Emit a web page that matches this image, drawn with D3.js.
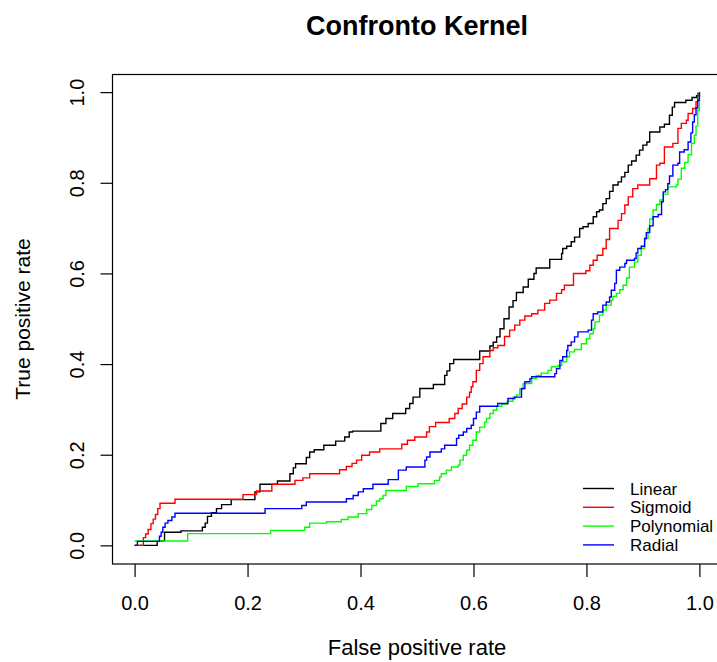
<!DOCTYPE html>
<html>
<head>
<meta charset="utf-8">
<script src="https://cdn.jsdelivr.net/npm/d3@7"></script>
<style>
  body { margin: 0; background: #fff; }
  svg { display: block; font-family: "Liberation Sans", Arial, sans-serif; }
</style>
</head>
<body>
<div id="chart"></div>
<script>
// ROC curves, [fpr, tpr] at each step (tpr after the rise)
var linear = [
    [0, 0], [0.040, 0.0095], [0.053, 0.029], [0.082, 0.032], [0.120, 0.040], [0.125, 0.049],
    [0.129, 0.064], [0.136, 0.072], [0.145, 0.081], [0.154, 0.090], [0.171, 0.101], [0.213, 0.118],
    [0.222, 0.135], [0.253, 0.142], [0.275, 0.158], [0.281, 0.171], [0.285, 0.180], [0.304, 0.194],
    [0.310, 0.206], [0.318, 0.211], [0.335, 0.221], [0.356, 0.230], [0.372, 0.239], [0.380, 0.250],
    [0.386, 0.252], [0.436, 0.269], [0.445, 0.280], [0.457, 0.291], [0.480, 0.302], [0.487, 0.313],
    [0.493, 0.327], [0.505, 0.346], [0.529, 0.355], [0.549, 0.375], [0.553, 0.385], [0.558, 0.401],
    [0.565, 0.410], [0.611, 0.429], [0.629, 0.440], [0.635, 0.448], [0.641, 0.460], [0.647, 0.478],
    [0.654, 0.500], [0.663, 0.526], [0.670, 0.540], [0.676, 0.558], [0.688, 0.570], [0.697, 0.587],
    [0.707, 0.600], [0.711, 0.612], [0.735, 0.631], [0.756, 0.644], [0.758, 0.655], [0.765, 0.660],
    [0.773, 0.670], [0.779, 0.680], [0.788, 0.699], [0.794, 0.703], [0.803, 0.710], [0.812, 0.725],
    [0.818, 0.736], [0.823, 0.740], [0.829, 0.754], [0.835, 0.765], [0.841, 0.781], [0.847, 0.795],
    [0.856, 0.802], [0.862, 0.813], [0.868, 0.823], [0.874, 0.839], [0.880, 0.848], [0.888, 0.861],
    [0.894, 0.872], [0.900, 0.883], [0.907, 0.890], [0.912, 0.912], [0.930, 0.923], [0.938, 0.929],
    [0.947, 0.949], [0.952, 0.967], [0.956, 0.977], [0.976, 0.982], [0.987, 0.988], [0.995, 0.992],
    [1, 1]
];

var sigmoid = [
    [0, 0], [0.0155, 0.017], [0.0195, 0.025], [0.024, 0.035], [0.029, 0.048], [0.033, 0.058],
    [0.037, 0.068], [0.041, 0.081], [0.045, 0.093], [0.0715, 0.1016], [0.192, 0.112], [0.216, 0.120],
    [0.243, 0.135], [0.284, 0.1435], [0.298, 0.149], [0.310, 0.158], [0.363, 0.167], [0.375, 0.174],
    [0.385, 0.181], [0.393, 0.188], [0.402, 0.199], [0.416, 0.206], [0.434, 0.213], [0.473, 0.223],
    [0.483, 0.232], [0.496, 0.239], [0.517, 0.250], [0.522, 0.262], [0.533, 0.271], [0.557, 0.280],
    [0.567, 0.291], [0.573, 0.302], [0.580, 0.312], [0.588, 0.327], [0.593, 0.338], [0.596, 0.350],
    [0.599, 0.361], [0.605, 0.386], [0.611, 0.401], [0.617, 0.416], [0.629, 0.430], [0.635, 0.436],
    [0.643, 0.441], [0.655, 0.461], [0.664, 0.475], [0.673, 0.486], [0.682, 0.497], [0.691, 0.506],
    [0.703, 0.511], [0.714, 0.519], [0.726, 0.534], [0.735, 0.541], [0.747, 0.556], [0.756, 0.564],
    [0.761, 0.574], [0.777, 0.600], [0.799, 0.606], [0.806, 0.618], [0.812, 0.629], [0.819, 0.640],
    [0.829, 0.655], [0.835, 0.675], [0.841, 0.699], [0.856, 0.717], [0.862, 0.732], [0.868, 0.751],
    [0.874, 0.769], [0.882, 0.787], [0.891, 0.795], [0.912, 0.809], [0.924, 0.839], [0.930, 0.843],
    [0.938, 0.879], [0.953, 0.887], [0.962, 0.920], [0.968, 0.931], [0.977, 0.938], [0.980, 0.953],
    [0.988, 0.964], [0.994, 0.979], [0.997, 0.997], [1, 1]
];

var polynomial = [
    [0, 0.0095], [0.094, 0.026], [0.241, 0.033], [0.301, 0.040], [0.310, 0.049], [0.340, 0.052],
    [0.366, 0.057], [0.378, 0.0625], [0.396, 0.070], [0.411, 0.079], [0.420, 0.088], [0.428, 0.098],
    [0.434, 0.103], [0.440, 0.110], [0.445, 0.121], [0.481, 0.130], [0.502, 0.136], [0.531, 0.1435],
    [0.540, 0.151], [0.543, 0.158], [0.552, 0.166], [0.561, 0.173], [0.573, 0.177], [0.576, 0.188],
    [0.582, 0.199], [0.588, 0.210], [0.593, 0.221], [0.599, 0.232], [0.605, 0.250], [0.611, 0.261],
    [0.620, 0.272], [0.623, 0.280], [0.629, 0.291], [0.635, 0.298], [0.641, 0.307], [0.650, 0.312],
    [0.660, 0.318], [0.670, 0.327], [0.676, 0.332], [0.682, 0.345], [0.688, 0.357], [0.703, 0.368],
    [0.711, 0.375], [0.720, 0.380], [0.732, 0.386], [0.738, 0.394], [0.750, 0.397], [0.756, 0.405],
    [0.765, 0.416], [0.770, 0.427], [0.779, 0.432], [0.791, 0.445], [0.800, 0.456], [0.806, 0.467],
    [0.812, 0.478], [0.815, 0.493], [0.823, 0.508], [0.829, 0.519], [0.835, 0.530], [0.844, 0.541],
    [0.847, 0.549], [0.853, 0.556], [0.859, 0.564], [0.865, 0.574], [0.871, 0.590], [0.876, 0.614],
    [0.885, 0.625], [0.891, 0.640], [0.897, 0.655], [0.903, 0.677], [0.909, 0.699], [0.912, 0.720],
    [0.918, 0.740], [0.924, 0.752], [0.930, 0.762], [0.936, 0.775], [0.944, 0.791], [0.959, 0.795],
    [0.962, 0.808], [0.968, 0.832], [0.974, 0.845], [0.980, 0.862], [0.986, 0.887], [0.991, 0.905],
    [0.994, 0.925], [0.997, 0.960], [1, 1]
];

var radial = [
    [0, 0], [0.005, 0.0088], [0.044, 0.020], [0.047, 0.029], [0.050, 0.040], [0.054, 0.049],
    [0.059, 0.055], [0.066, 0.0625], [0.0715, 0.071], [0.231, 0.081], [0.296, 0.088], [0.304, 0.0956],
    [0.375, 0.103], [0.387, 0.110], [0.396, 0.118], [0.405, 0.125], [0.422, 0.135], [0.449, 0.145],
    [0.467, 0.166], [0.481, 0.173], [0.514, 0.188], [0.517, 0.195], [0.523, 0.206], [0.543, 0.213],
    [0.549, 0.221], [0.570, 0.236], [0.574, 0.243], [0.582, 0.250], [0.588, 0.258], [0.596, 0.265],
    [0.600, 0.280], [0.605, 0.294], [0.611, 0.307], [0.643, 0.313], [0.661, 0.324], [0.673, 0.327],
    [0.685, 0.346], [0.691, 0.361], [0.700, 0.368], [0.703, 0.372], [0.744, 0.379], [0.747, 0.390],
    [0.753, 0.408], [0.758, 0.416], [0.765, 0.430], [0.767, 0.441], [0.773, 0.449], [0.779, 0.460],
    [0.785, 0.471], [0.803, 0.475], [0.809, 0.497], [0.812, 0.511], [0.820, 0.515], [0.829, 0.530],
    [0.835, 0.537], [0.841, 0.548], [0.844, 0.563], [0.850, 0.578], [0.853, 0.607], [0.859, 0.614],
    [0.868, 0.622], [0.871, 0.629], [0.885, 0.633], [0.888, 0.645], [0.891, 0.655], [0.897, 0.660],
    [0.903, 0.677], [0.906, 0.690], [0.912, 0.705], [0.918, 0.725], [0.927, 0.730], [0.933, 0.758],
    [0.936, 0.780], [0.940, 0.785], [0.944, 0.798], [0.947, 0.815], [0.953, 0.839], [0.962, 0.843],
    [0.965, 0.868], [0.973, 0.873], [0.980, 0.890], [0.985, 0.910], [0.988, 0.934], [0.991, 0.950],
    [0.994, 0.965], [0.997, 0.982], [1, 1]
];

var seriesNames = ["Linear", "Sigmoid", "Polynomial", "Radial"];
var seriesColors = ["#000000", "#ff0000", "#00ff00", "#0000ff"];
var seriesData = [linear, sigmoid, polynomial, radial];
var tickValues = [0, 0.2, 0.4, 0.6, 0.8, 1.0];

var width = 717,
    height = 662;

var svg = d3.select("#chart")
    .append("svg")
    .attr("width", width)
    .attr("height", height);

// R style: axis range padded 4% on each side
var x = d3.scaleLinear().domain([-0.04, 1.04]).range([112, 722]);
var y = d3.scaleLinear().domain([-0.04, 1.04]).range([563.5, 74]);

/* plot box */
svg.append("rect")
    .attr("x", x.range()[0] + 0.5)
    .attr("y", y.range()[1] + 0.5)
    .attr("width", x.range()[1] - x.range()[0])
    .attr("height", y.range()[0] - y.range()[1])
    .attr("fill", "none")
    .attr("stroke", "#000")
    .attr("stroke-width", 1.2);

/* x axis */
var xAxis = svg.append("g")
    .attr("transform", "translate(0," + (y.range()[0] + 0.5) + ")")
    .call(d3.axisBottom(x).tickValues(tickValues).tickSize(13).tickFormat(d3.format(".1f")));
xAxis.select(".domain").remove();
xAxis.selectAll("line").attr("stroke", "#000").attr("stroke-width", 1.2);
xAxis.selectAll("text")
    .attr("y", 45.5)
    .attr("dy", null)
    .attr("fill", "#000")
    .style("font-size", "20px")
    .style("font-family", "Liberation Sans, Arial, sans-serif");

/* y axis */
var yAxis = svg.append("g")
    .attr("transform", "translate(" + (x.range()[0] + 0.5) + ",0)")
    .call(d3.axisLeft(y).tickValues(tickValues).tickSize(12).tickFormat(d3.format(".1f")));
yAxis.select(".domain").remove();
yAxis.selectAll("line").attr("stroke", "#000").attr("stroke-width", 1.2);
yAxis.selectAll("text")
    .attr("transform", "rotate(-90)")
    .attr("x", 0)
    .attr("y", -28.5)
    .attr("dy", null)
    .attr("text-anchor", "middle")
    .attr("fill", "#000")
    .style("font-size", "20px")
    .style("font-family", "Liberation Sans, Arial, sans-serif");

/* titles */
svg.append("text")
    .attr("x", 417)
    .attr("y", 35)
    .attr("text-anchor", "middle")
    .style("font-size", "27px")
    .style("font-weight", "bold")
    .text("Confronto Kernel");

svg.append("text")
    .attr("x", 417)
    .attr("y", 655)
    .attr("text-anchor", "middle")
    .style("font-size", "22px")
    .text("False positive rate");

svg.append("text")
    .attr("transform", "translate(30," + 319 + ") rotate(-90)")
    .attr("text-anchor", "middle")
    .style("font-size", "21px")
    .text("True positive rate");

/* curves */
var line = d3.line()
    .x(function(d) { return x(d[0]); })
    .y(function(d) { return y(d[1]); })
    .curve(d3.curveStepAfter);

svg.append("g")
    .selectAll("path")
    .data(seriesData)
    .enter().append("path")
    .attr("d", line)
    .attr("fill", "none")
    .attr("stroke", function(d, i) { return seriesColors[i]; })
    .attr("stroke-width", 1.4);

/* legend */
var legend = svg.append("g")
    .selectAll("g")
    .data(seriesNames)
    .enter().append("g")
    .attr("transform", function(d, i) { return "translate(583," + (488.5 + i * 18.8) + ")"; });

legend.append("line")
    .attr("x1", 0)
    .attr("x2", 31)
    .attr("stroke", function(d, i) { return seriesColors[i]; })
    .attr("stroke-width", 1.4);

legend.append("text")
    .attr("x", 47)
    .attr("y", 6)
    .style("font-size", "17px")
    .text(function(d) { return d; });
</script>
</body>
</html>
